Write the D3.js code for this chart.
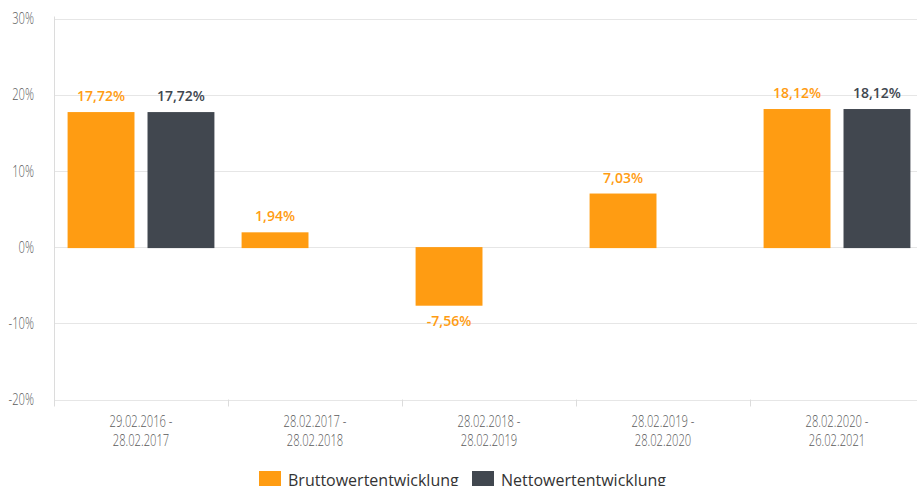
<!DOCTYPE html>
<html>
<head>
<meta charset="utf-8">
<script src="https://cdn.jsdelivr.net/npm/d3@7"></script>
<style>
  body { margin: 0; background: #fff; }
  svg { display: block; }
  .tick-label { font-family: "Open Sans", sans-serif; font-weight: 300; fill: #5a5a5a; }
</style>
</head>
<body>
<svg id="chart" width="917" height="486"></svg>
<script>
const categories = [
  ["29.02.2016 -", "28.02.2017"],
  ["28.02.2017 -", "28.02.2018"],
  ["28.02.2018 -", "28.02.2019"],
  ["28.02.2019 -", "28.02.2020"],
  ["28.02.2020 -", "26.02.2021"]
];
const brutto = [17.72, 1.94, -7.56, 7.03, 18.12];
const netto = [17.72, null, null, null, 18.12];
const seriesNames = ["Bruttowertentwicklung", "Nettowertentwicklung"];
const yTicks = [-20, -10, 0, 10, 20, 30];

const COLORS = ["#ff9c12", "#41474f"];
const MARGIN = { top: 18.5, right: 0, bottom: 86.5, left: 54 };
const WIDTH = 917, HEIGHT = 486;
const CONDENSE = 0.7;

const svg = d3.select("#chart");

const x = d3.scaleBand()
  .domain(d3.range(categories.length))
  .range([MARGIN.left, MARGIN.left + 5 * 174]);

const inner = d3.scaleBand()
  .domain([0, 1])
  .range([0, x.bandwidth()])
  .paddingInner(0.163)
  .paddingOuter(0.17);

const y = d3.scaleLinear()
  .domain([-20, 30])
  .range([HEIGHT - MARGIN.bottom, MARGIN.top]);

const fmt = v => d3.format(".2f")(v).replace(".", ",").replace("\u2212", "-") + "%";

// gridlines
svg.append("g")
  .selectAll("line")
  .data(yTicks)
  .join("line")
  .attr("x1", MARGIN.left)
  .attr("x2", WIDTH)
  .attr("y1", d => Math.round(y(d)) + 0.5)
  .attr("y2", d => Math.round(y(d)) + 0.5)
  .attr("stroke", "#e6e6e6")
  .attr("stroke-width", 1);

// y tick labels (condensed look)
svg.append("g")
  .selectAll("text")
  .data(yTicks)
  .join("text")
  .attr("class", "tick-label")
  .attr("transform", d => `translate(34,${y(d)}) scale(${CONDENSE},1)`)
  .attr("dy", "0.35em")
  .attr("text-anchor", "end")
  .style("font-size", "16px")
  .text(d => d + "%");

// left axis line
svg.append("line")
  .attr("x1", MARGIN.left + 0.5).attr("x2", MARGIN.left + 0.5)
  .attr("y1", MARGIN.top - 2).attr("y2", y(-20) + 7)
  .attr("stroke", "#dcdcdc");

// category separators
svg.append("g")
  .selectAll("line")
  .data(d3.range(1, categories.length))
  .join("line")
  .attr("x1", d => Math.round(x(d)) + 0.5)
  .attr("x2", d => Math.round(x(d)) + 0.5)
  .attr("y1", y(-20))
  .attr("y2", y(-20) + 7)
  .attr("stroke", "#dcdcdc");

// x labels
const xl = svg.append("g")
  .selectAll("text")
  .data(categories)
  .join("text")
  .attr("class", "tick-label")
  .attr("text-anchor", "middle")
  .style("font-size", "16px")
  .attr("transform", (d, i) => `translate(${x(i) + x.bandwidth() / 2},${y(-20) + 27}) scale(${CONDENSE},1)`);
xl.selectAll("tspan")
  .data(d => d)
  .join("tspan")
  .attr("x", 0)
  .attr("dy", (d, i) => i === 0 ? 0 : 20)
  .text(d => d);

// bars
const series = [brutto, netto];
series.forEach((vals, s) => {
  const pts = vals.map((v, i) => ({ v, i })).filter(d => d.v !== null);
  const g = svg.append("g");
  g.selectAll("rect")
    .data(pts)
    .join("rect")
    .attr("x", d => x(d.i) + inner(s))
    .attr("width", inner.bandwidth())
    .attr("y", d => y(Math.max(0, d.v)))
    .attr("height", d => Math.abs(y(d.v) - y(0)) + 1)
    .attr("fill", COLORS[s]);

  g.selectAll("text")
    .data(pts)
    .join("text")
    .attr("x", d => x(d.i) + inner(s) + inner.bandwidth() / 2)
    .attr("y", d => d.v >= 0 ? y(d.v) - 11 : y(d.v) + 21)
    .attr("text-anchor", "middle")
    .style("font-family", "'Open Sans', sans-serif")
    .style("font-size", "14px")
    .style("font-weight", "600")
    .attr("fill", COLORS[s])
    .text(d => fmt(d.v));
});

// legend
const legendX = [259, 472];
const legend = svg.append("g")
  .selectAll("g")
  .data(seriesNames)
  .join("g")
  .attr("transform", (d, i) => `translate(${legendX[i]},471)`);
legend.append("rect")
  .attr("width", 22).attr("height", 22)
  .attr("fill", (d, i) => COLORS[i]);
legend.append("text")
  .attr("x", 29)
  .attr("y", 14.5)
  .style("font-family", "'Open Sans', sans-serif")
  .style("font-size", "16px")
  .attr("fill", "#333")
  .text(d => d);
</script>
</body>
</html>
